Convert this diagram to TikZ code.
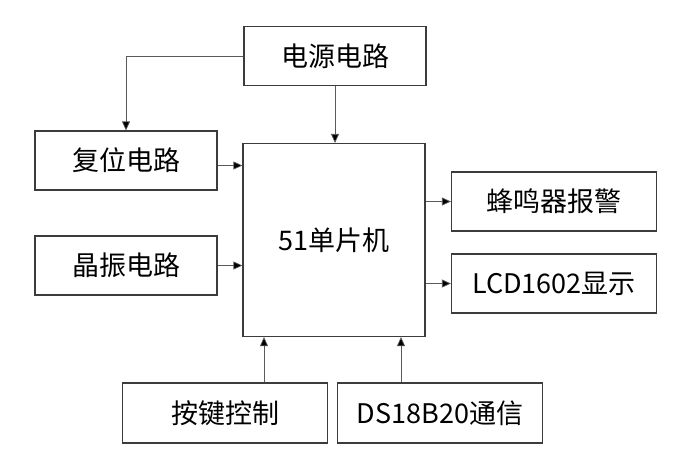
\documentclass[tikz,border=0pt]{standalone}
\usepackage{fontspec}
\usepackage{xcolor}
\usepackage{tikz}
\usetikzlibrary{arrows.meta,positioning,calc}
\newfontfamily\cjk{Noto Sans CJK SC}
\definecolor{boxline}{HTML}{3C3C3C}
\definecolor{wire}{HTML}{5A5A5A}

\begin{document}
\begin{tikzpicture}[x=1pt, y=-1pt,
    block/.style={rectangle, draw=boxline, line width=1.2pt, fill=white, minimum width=182pt, minimum height=59pt, inner sep=0pt, font=\cjk\fontsize{27}{32}\selectfont, text centered},
    wideblock/.style={block, minimum width=205pt},
    sig/.style={draw=wire, line width=0.7pt, -{Triangle[length=9pt, width=8pt, fill=black]}}
]
    \useasboundingbox (0,0) rectangle (692,472);

    % power supply and MCU
    \node[block] (power) at (335,56) {电源电路};
    \node[block, minimum height=193pt] (mcu) at (334,240) {};
    \node[font=\cjk\fontsize{27}{32}\selectfont] (mcutext) at (334,240) {51单片机};

    % inputs on the left
    \node[block] (reset) at (126,160.5) {复位电路};
    \node[block] (osc) at (126,265.5) {晶振电路};

    % outputs on the right
    \node[wideblock] (buzzer) at (554,201.5) {蜂鸣器报警};
    \node[wideblock] (lcd) at (554,283.5) {LCD1602显示};

    % inputs below
    \node[wideblock, minimum height=60pt] (key) at (225,413) {按键控制};
    \node[wideblock, minimum height=60pt] (ds) at (440,413) {DS18B20通信};

    % connections
    \draw[sig] (power.west) -| (reset.north);
    \draw[sig] (power.south) -- (power.south |- mcu.north);
    \draw[sig] ([yshift=-5pt]reset.east) -- ([yshift=-5pt]reset.east -| mcu.west);
    \draw[sig] (osc.east) -- (osc.east -| mcu.west);
    \draw[sig] (mcu.east |- buzzer.west) -- (buzzer.west);
    \draw[sig] (mcu.east |- lcd.west) -- (lcd.west);
    \draw[sig] ([xshift=39pt]key.north) -- ([xshift=39pt]key.north |- mcu.south);
    \draw[sig] ([xshift=-39pt]ds.north) -- ([xshift=-39pt]ds.north |- mcu.south);
\end{tikzpicture}
\end{document}
